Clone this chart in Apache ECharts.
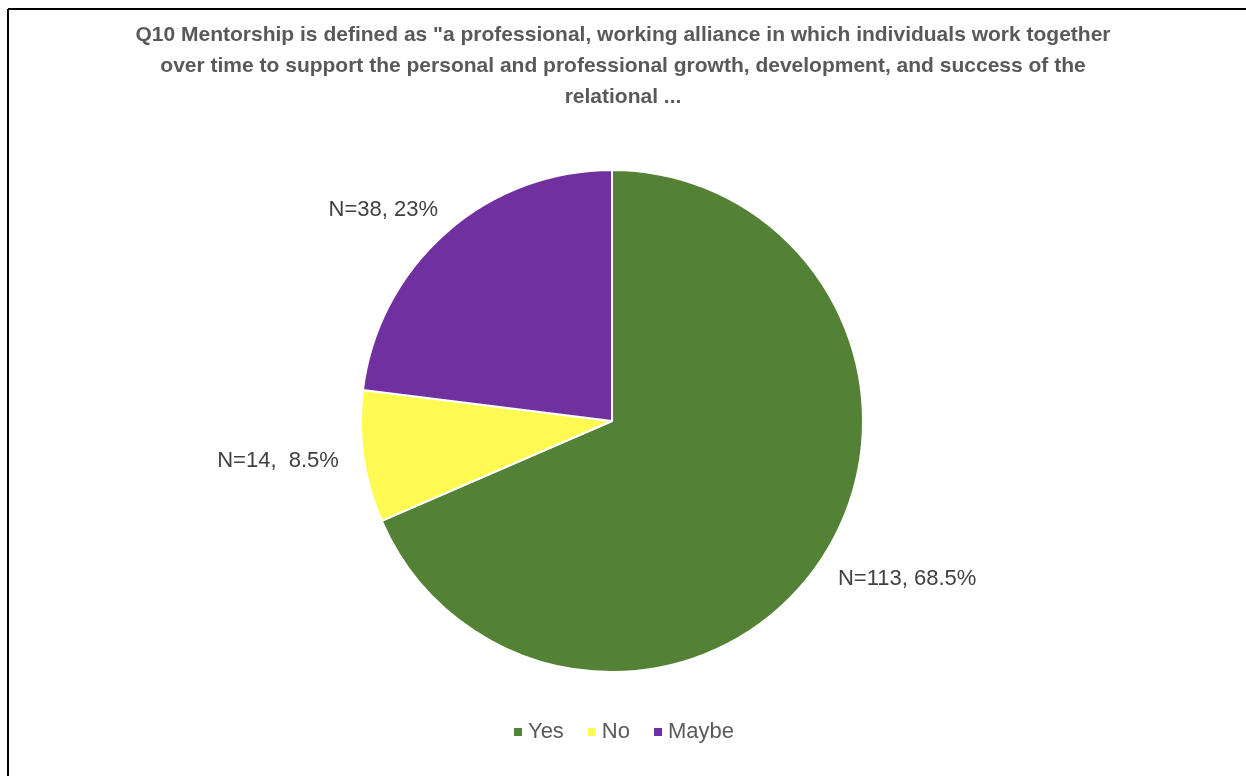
<!DOCTYPE html>
<html>
<head>
<meta charset="utf-8">
<script src="https://cdn.jsdelivr.net/npm/echarts@6/dist/echarts.min.js"></script>
<style>
  html, body { margin: 0; padding: 0; background: #fff; }
  #chart { width: 1246px; height: 776px; }
</style>
</head>
<body>
<div id="chart"></div>
<script>
const categories = ['Yes', 'No', 'Maybe']
const counts = [113, 14, 38]
const percentLabels = ['68.5%', ' 8.5%', '23%']
const colors = ['#538135', '#FFF952', '#7030A0']

const titleText = 'Q10 Mentorship is defined as "a professional, working alliance in which individuals work together\n' +
  'over time to support the personal and professional growth, development, and success of the\n' +
  'relational ...'

const chart = echarts.init(document.getElementById('chart'))

const option = {
  backgroundColor: '#fff',
  animation: false,
  color: colors,
  title: {
    text: titleText,
    left: 'center',
    top: 15,
    padding: [5, 31, 5, 5],
    textStyle: {
      fontFamily: 'Liberation Sans',
      fontWeight: 'bold',
      fontSize: 21,
      color: '#595959',
      lineHeight: 31,
    },
  },
  legend: {
    top: 716,
    left: 'center',
    itemWidth: 10,
    itemHeight: 10,
    itemGap: 22,
    icon: 'rect',
    textStyle: {
      fontFamily: 'Liberation Sans',
      fontSize: 22,
      color: '#595959',
    },
    data: categories,
  },
  graphic: [
    { type: 'line', shape: { x1: 8, y1: 9, x2: 1246, y2: 9 }, style: { stroke: '#000', lineWidth: 2 } },
    { type: 'line', shape: { x1: 8, y1: 9, x2: 8, y2: 776 }, style: { stroke: '#000', lineWidth: 2 } },
  ],
  series: [
    {
      type: 'pie',
      center: [612, 421],
      radius: 251,
      startAngle: 90,
      clockwise: true,
      itemStyle: {
        borderColor: '#fff',
        borderWidth: 2,
      },
      label: {
        show: true,
        position: 'outside',
        distanceToLabelLine: 0,
        fontFamily: 'Liberation Sans',
        fontSize: 22,
        color: '#404040',
        formatter: (p) => `N=${p.value}, ${percentLabels[p.dataIndex]}`,
      },
      labelLine: {
        show: false,
        length: 30,
        length2: 0,
      },
      labelLayout: (params) => {
        // small nudges so labels sit like the original Excel best-fit placement
        const dx = [-9, 5, 12][params.dataIndex]
        const dy = [4, 0, 0][params.dataIndex]
        return { dx: dx, dy: dy }
      },
      data: categories.map((c, i) => ({ name: c, value: counts[i] })),
    },
  ],
}

chart.setOption(option)
</script>
</body>
</html>
